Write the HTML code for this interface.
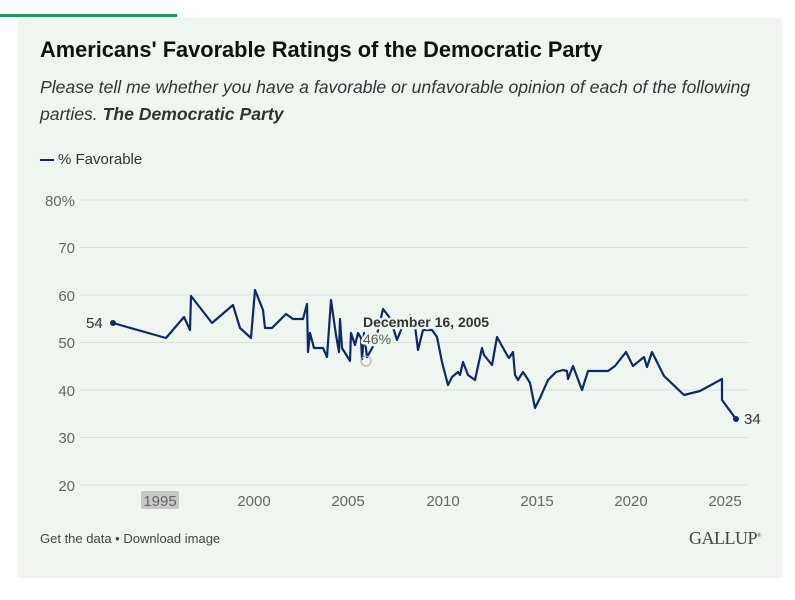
<!DOCTYPE html>
<html><head><meta charset="utf-8"><style>
body{margin:0;width:795px;height:600px;background:#fff;font-family:"Liberation Sans",sans-serif;position:relative;overflow:hidden}
.bar{position:absolute;left:0;top:14px;width:177px;height:3px;background:#1d9a5a}
.card{position:absolute;left:18px;top:18px;width:764px;height:560px;background:#eff6ef}
.t{position:absolute;left:40px;top:37px;font-size:21.8px;font-weight:bold;color:#111}
.s{position:absolute;left:40px;top:74px;width:740px;font-size:17.6px;font-style:italic;color:#333;line-height:27px}
.lg{position:absolute;left:40px;top:151px;font-size:15px;color:#333}
.lg i{display:inline-block;width:14px;height:2px;background:#0d2a66;vertical-align:middle;margin-right:4px}
.ft{position:absolute;left:40px;top:531px;font-size:13px;color:#444}
.g{position:absolute;left:689px;top:528px;font-family:"Liberation Serif",serif;font-size:18px;color:#444;letter-spacing:-0.5px}
</style></head><body>
<div class="card"></div><div class="bar"></div>
<div class="t">Americans' Favorable Ratings of the Democratic Party</div>
<div class="s">Please tell me whether you have a favorable or unfavorable opinion of each of the following parties. <b>The Democratic Party</b></div>
<div class="lg"><i></i>% Favorable</div>
<svg width="795" height="600" style="position:absolute;left:0;top:0" font-family="Liberation Sans, sans-serif">
<g stroke="#d8e0d8" stroke-width="1">
<line x1="80" x2="748" y1="200" y2="200"/><line x1="80" x2="748" y1="247.5" y2="247.5"/><line x1="80" x2="748" y1="295" y2="295"/><line x1="80" x2="748" y1="342.5" y2="342.5"/><line x1="80" x2="748" y1="390" y2="390"/><line x1="80" x2="748" y1="437.5" y2="437.5"/><line x1="80" x2="748" y1="485" y2="485"/>
</g>
<g font-size="15" fill="#666" text-anchor="end">
<text x="75" y="206">80%</text><text x="75" y="253">70</text><text x="75" y="301">60</text><text x="75" y="348">50</text><text x="75" y="396">40</text><text x="75" y="443">30</text><text x="75" y="491">20</text>
</g>
<rect x="141" y="491" width="38" height="18" fill="#c8c8c8"/>
<g font-size="15" fill="#666" text-anchor="middle">
<text x="160" y="506">1995</text><text x="254" y="506">2000</text><text x="348" y="506">2005</text><text x="443" y="506">2010</text><text x="537" y="506">2015</text><text x="631" y="506">2020</text><text x="725" y="506">2025</text>
</g>
<polyline fill="none" stroke="#0d2a66" stroke-width="2.2" stroke-linejoin="round" points="113,323 166,338 184,317 190,330 191,296 212,323 233,305 236,315 240,328 251,338 255,290 263,310 265,328 272,328 286,314 293,319 303,319 307,304 308,352 310,333 314,348 323,348 327,357 331,300 336,335 339,352 340,319 342,348 350,361 351,333 355,345 358,333 361,338 362,359 364,333 367,357 375,343 383,309 390,318 397,340 403,325 410,315 414,318 418,350 423,330 432,330 437,337 442,362 448,385 452,377 458,372 460,375 463,362 468,375 475,380 482,348 484,355 492,365 497,337 507,355 509,358 513,352 515,375 518,380 523,372 527,378 530,383 535,408 540,398 548,380 556,372 563,370 567,371 568,379 573,366 582,390 588,371 608,371 615,366 626,352 633,366 644,357 647,367 652,352 664,376 684,395 700,391 722,379 722,400 736,419"/>
<circle cx="113" cy="323" r="3" fill="#0d2a66"/><circle cx="736" cy="419" r="3" fill="#0d2a66"/>
<circle cx="366" cy="361" r="5" fill="none" stroke="#aaa" stroke-width="1"/>
<text x="86" y="328" font-size="15" fill="#333">54</text>
<text x="744" y="424" font-size="15" fill="#333">34</text>
<g stroke="#eff6ef" stroke-width="5" stroke-linejoin="round" style="paint-order:stroke">
<text x="363" y="327" font-size="14" font-weight="bold" fill="#333">December 16, 2005</text>
<text x="363" y="344" font-size="14" fill="#555">46%</text>
</g>
</svg>
<div class="ft">Get the data • Download image</div>
<div class="g">GALLUP<sup style="font-size:6px">®</sup></div>
</body></html>
